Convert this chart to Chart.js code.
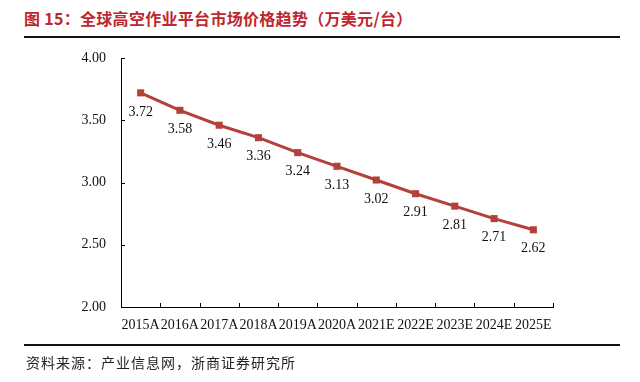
<!DOCTYPE html>
<html><head><meta charset="utf-8">
<script src="https://cdn.jsdelivr.net/npm/chart.js@4/dist/chart.umd.min.js"></script>
<style>
html,body{margin:0;padding:0;background:#fff;width:640px;height:382px;overflow:hidden;}
#wrap{position:relative;width:640px;height:382px;}
#c{position:absolute;left:0;top:0;}
.title{position:absolute;left:24px;top:6px;font-family:"Noto Sans CJK SC";font-weight:bold;font-size:16px;color:#C0262D;white-space:nowrap;letter-spacing:0.3px;}
.rule{position:absolute;left:24px;width:596px;height:2px;background:#111;}
.src{position:absolute;left:26px;top:352px;font-family:"Noto Sans CJK SC";font-size:14px;color:#222;white-space:nowrap;letter-spacing:1px;}
</style></head>
<body><div id="wrap">
<div class="title">图 15：全球高空作业平台市场价格趋势（万美元/台）</div>
<div class="rule" style="top:36px"></div>
<canvas id="c" width="640" height="382"></canvas>
<div class="rule" style="top:344px"></div>
<div class="src">资料来源：产业信息网，浙商证券研究所</div>
</div>
<script>
const categories = ["2015A","2016A","2017A","2018A","2019A","2020A","2021E","2022E","2023E","2024E","2025E"];
const prices = [3.72,3.58,3.46,3.36,3.24,3.13,3.02,2.91,2.81,2.71,2.62];
const yTicks = [2.00,2.50,3.00,3.50,4.00];

const serif = "Liberation Serif";
const lineColor = "#B3413A";

const innerTicks = {
  id:'innerTicks',
  afterDraw(chart){
    const ctx = chart.ctx, x = chart.scales.x, y = chart.scales.y;
    ctx.save();
    ctx.strokeStyle = '#000'; ctx.lineWidth = 1;
    ctx.beginPath();
    for(let i=0;i<=categories.length;i++){
      const px = Math.round(x.getPixelForValue(i-0.5))+0.5;
      ctx.moveTo(px, y.bottom); ctx.lineTo(px, y.bottom-4);
    }
    yTicks.forEach(v=>{
      const py = Math.round(y.getPixelForValue(v))+0.5;
      ctx.moveTo(x.left, py); ctx.lineTo(x.left+4, py);
    });
    ctx.stroke();
    const meta = chart.getDatasetMeta(0);
    ctx.fillStyle = '#111';
    ctx.font = '14px "'+serif+'"';
    ctx.textAlign = 'center'; ctx.textBaseline = 'middle';
    meta.data.forEach((pt,i)=>{
      ctx.fillText(prices[i].toFixed(2), pt.x, pt.y+19);
    });
    ctx.restore();
  }
};

new Chart(document.getElementById('c'), {
  type:'line',
  data:{labels:categories, datasets:[{
    data:prices, borderColor:lineColor, backgroundColor:lineColor,
    borderWidth:3, pointStyle:'rect', pointRadius:5, pointBorderWidth:0,
    pointBackgroundColor:lineColor, tension:0
  }]},
  options:{
    responsive:false, animation:false,
    layout:{padding:{top:58,right:87,left:0,bottom:0}},
    plugins:{legend:{display:false}, tooltip:{enabled:false}},
    scales:{
      x:{
        type:'category', offset:true,
        grid:{display:true, offset:true, drawOnChartArea:false, drawTicks:false},
        border:{display:true,color:'#000',width:1},
        ticks:{padding:10, color:'#111', font:{family:serif,size:14}, maxRotation:0, autoSkip:false},
        afterFit(s){ s.height = 75; }
      },
      y:{
        min:2, max:4,
        afterBuildTicks(s){ s.ticks = yTicks.map(v=>({value:v})); },
        grid:{drawOnChartArea:false, drawTicks:false},
        border:{display:true,color:'#000',width:1},
        ticks:{padding:15, color:'#111', font:{family:serif,size:14}, callback:v=>Number(v).toFixed(2)},
        afterFit(s){ s.width = 121; }
      }
    }
  },
  plugins:[innerTicks]
});
</script>
</body></html>
